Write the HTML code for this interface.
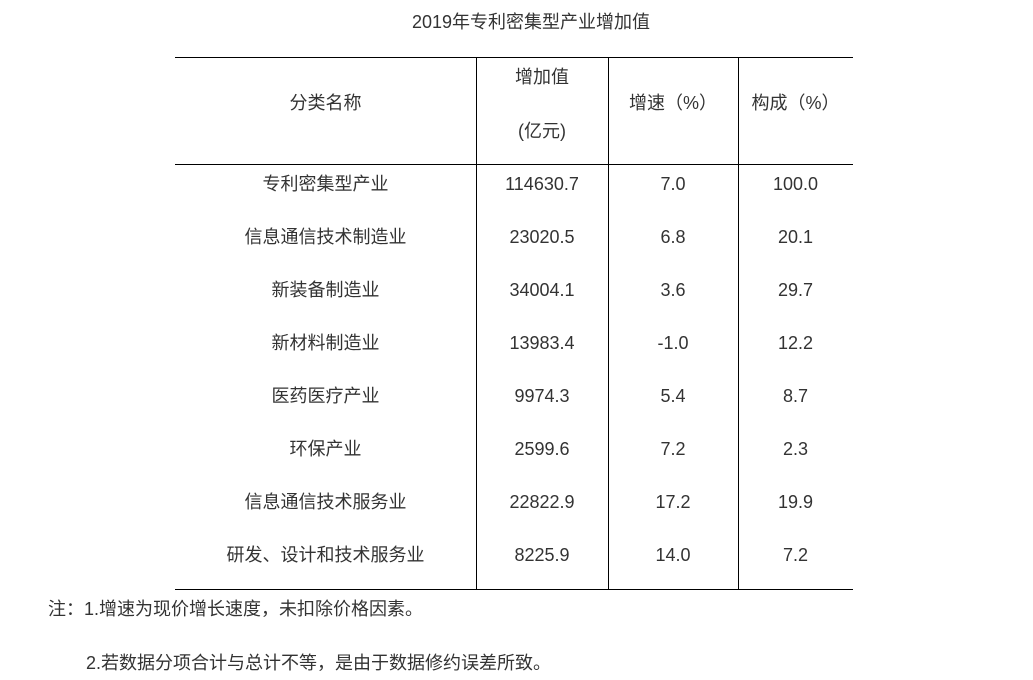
<!DOCTYPE html>
<html>
<head>
<meta charset="utf-8">
<style>
  html, body { margin: 0; padding: 0; background: #fff; }
  body { width: 1033px; height: 680px; position: relative; overflow: hidden;
         font-family: "Liberation Sans", "Noto Sans CJK SC", sans-serif; font-size: 18px; color: #333; }
  .t { position: absolute; line-height: 24px; height: 24px; white-space: nowrap; text-align: center; }
  .h { position: absolute; height: 1px; background: #000; }
  .v { position: absolute; width: 1px; background: #000; }
  .c1 { left: 175px; width: 301px; }
  .c2 { left: 476px; width: 132px; }
  .c3 { left: 608px; width: 130px; }
  .c4 { left: 738px; width: 115px; }
</style>
</head>
<body>
  <div class="t" style="left:412px; top:10px; text-align:left;">2019年专利密集型产业增加值</div>

  <div class="h" style="left:175px; width:678px; top:57px;"></div>
  <div class="h" style="left:175px; width:678px; top:164px;"></div>
  <div class="h" style="left:175px; width:678px; top:589px;"></div>
  <div class="v" style="left:476px; top:57px; height:533px;"></div>
  <div class="v" style="left:608px; top:57px; height:533px;"></div>
  <div class="v" style="left:738px; top:57px; height:533px;"></div>

  <div class="t c1" style="top:91px;">分类名称</div>
  <div class="t c2" style="top:65px;">增加值</div>
  <div class="t c2" style="top:119px;">(亿元)</div>
  <div class="t c3" style="top:91px;">增速（%）</div>
  <div class="t c4" style="top:91px;">构成（%）</div>

  <div class="t c1" style="top:172px;">专利密集型产业</div>
  <div class="t c2" style="top:172px;">114630.7</div>
  <div class="t c3" style="top:172px;">7.0</div>
  <div class="t c4" style="top:172px;">100.0</div>

  <div class="t c1" style="top:225px;">信息通信技术制造业</div>
  <div class="t c2" style="top:225px;">23020.5</div>
  <div class="t c3" style="top:225px;">6.8</div>
  <div class="t c4" style="top:225px;">20.1</div>

  <div class="t c1" style="top:278px;">新装备制造业</div>
  <div class="t c2" style="top:278px;">34004.1</div>
  <div class="t c3" style="top:278px;">3.6</div>
  <div class="t c4" style="top:278px;">29.7</div>

  <div class="t c1" style="top:331px;">新材料制造业</div>
  <div class="t c2" style="top:331px;">13983.4</div>
  <div class="t c3" style="top:331px;">-1.0</div>
  <div class="t c4" style="top:331px;">12.2</div>

  <div class="t c1" style="top:384px;">医药医疗产业</div>
  <div class="t c2" style="top:384px;">9974.3</div>
  <div class="t c3" style="top:384px;">5.4</div>
  <div class="t c4" style="top:384px;">8.7</div>

  <div class="t c1" style="top:437px;">环保产业</div>
  <div class="t c2" style="top:437px;">2599.6</div>
  <div class="t c3" style="top:437px;">7.2</div>
  <div class="t c4" style="top:437px;">2.3</div>

  <div class="t c1" style="top:490px;">信息通信技术服务业</div>
  <div class="t c2" style="top:490px;">22822.9</div>
  <div class="t c3" style="top:490px;">17.2</div>
  <div class="t c4" style="top:490px;">19.9</div>

  <div class="t c1" style="top:543px;">研发、设计和技术服务业</div>
  <div class="t c2" style="top:543px;">8225.9</div>
  <div class="t c3" style="top:543px;">14.0</div>
  <div class="t c4" style="top:543px;">7.2</div>

  <div class="t" style="left:48px; top:597px; text-align:left;">注：1.增速为现价增长速度，未扣除价格因素。</div>
  <div class="t" style="left:86px; top:651px; text-align:left;">2.若数据分项合计与总计不等，是由于数据修约误差所致。</div>
</body>
</html>
